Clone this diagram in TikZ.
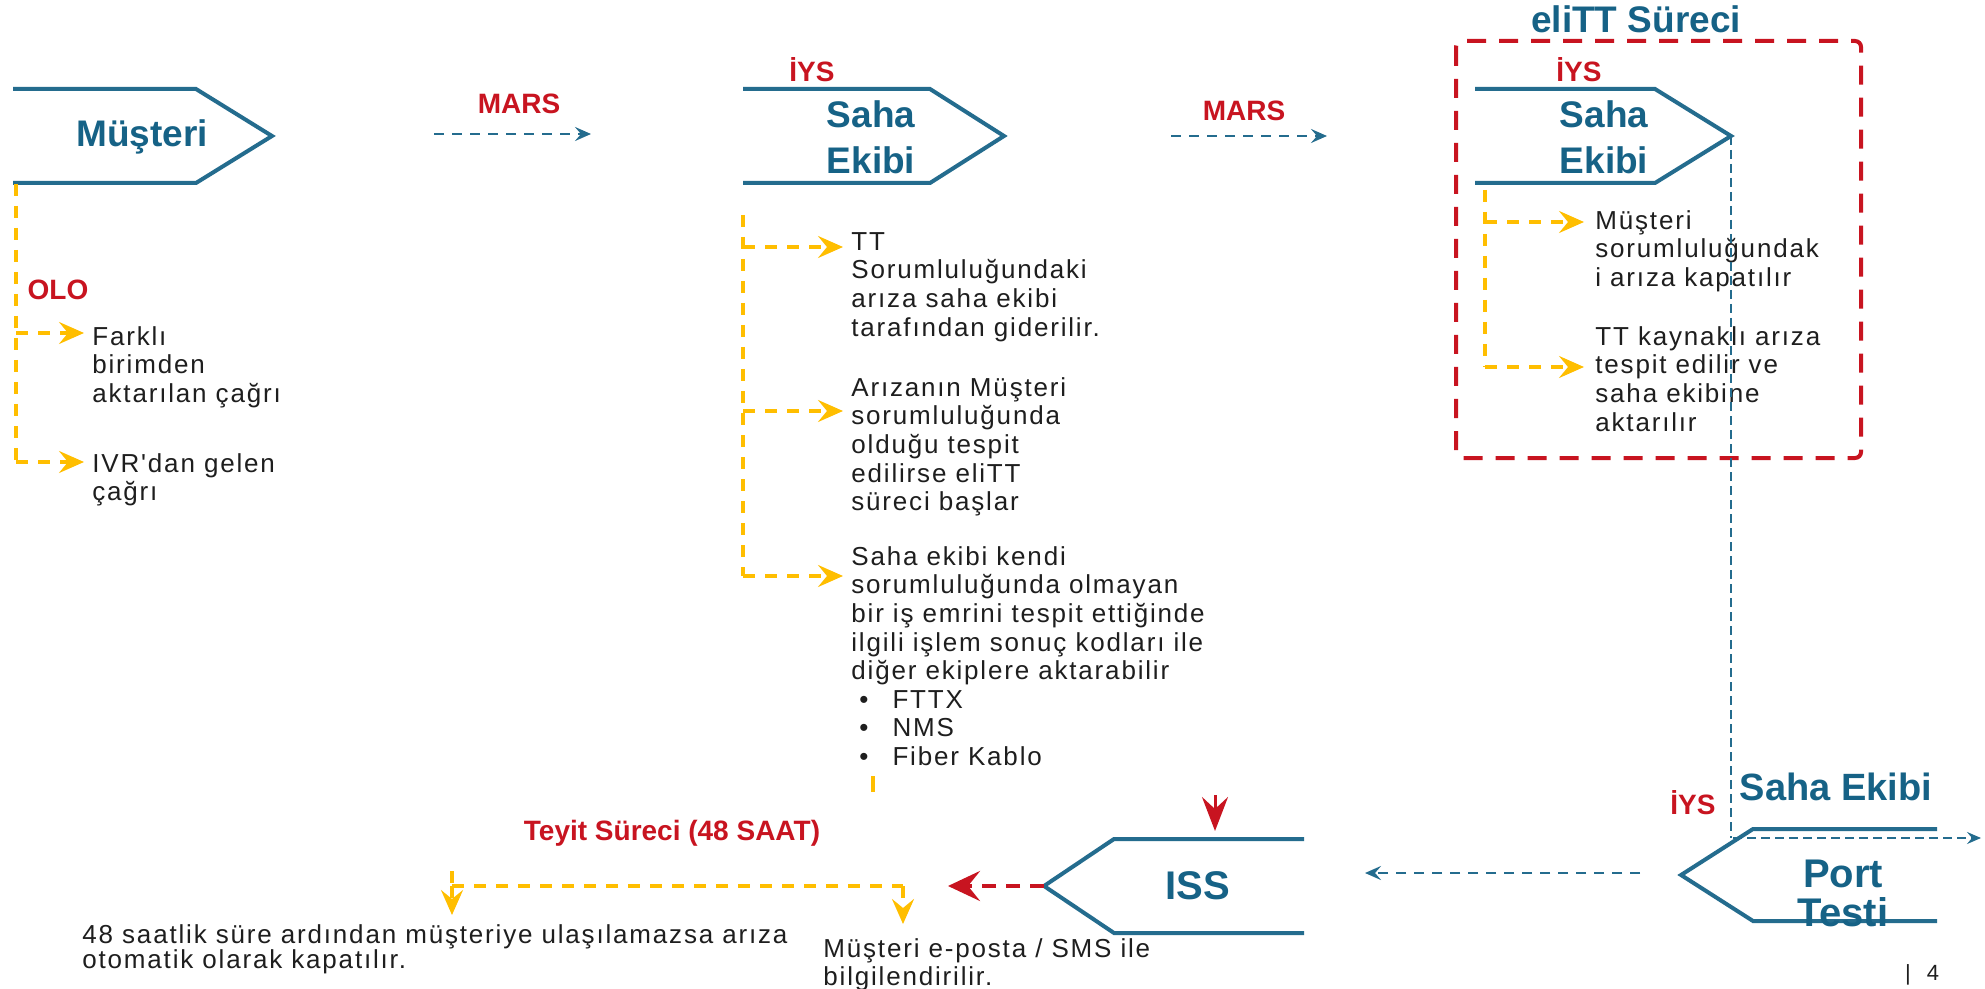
\documentclass[tikz,border=0pt]{standalone}
\usepackage{fontspec}
\setmainfont{Liberation Sans}
\newfontfamily\bodyf[LetterSpace=7]{Liberation Sans}
\usetikzlibrary{arrows.meta}
\definecolor{cblue}{RGB}{36,108,142}
\definecolor{tblue}{RGB}{22,98,134}
\definecolor{cred}{RGB}{200,20,32}
\definecolor{cyel}{RGB}{255,190,0}
\definecolor{ctext}{RGB}{30,30,30}
\tikzset{
 chev/.style={draw=cblue, line width=2pt, line join=miter},
 title/.style={font=\fontsize{18.5}{23}\selectfont\bfseries, text=tblue, align=center, inner sep=0},
 lab/.style={font=\fontsize{14}{16}\selectfont\bfseries, text=cred, inner sep=0},
 body/.style={font=\bodyf\fontsize{13}{14.3}\selectfont, align=left, anchor=north west, inner sep=0, text=ctext},
 ydash/.style={draw=cyel, line width=1.6pt, dash pattern=on 6pt off 5pt},
 yarrow/.style={ydash, -{Stealth[length=12.5pt,width=11pt,inset=4.5pt]}},
 bdash/.style={draw=cblue, line width=1.4pt, dash pattern=on 5pt off 4pt},
 barrow/.style={bdash, -{Stealth[length=8pt,width=7pt,inset=3pt]}},
 vdash/.style={draw=cblue, line width=1pt, dash pattern=on 4.5pt off 2.5pt},
 rbox/.style={draw=cred, line width=2pt, dash pattern=on 9.5pt off 6.5pt, rounded corners=3pt},
}
\begin{document}
\begin{tikzpicture}[x=0.5pt,y=-0.5pt]
\useasboundingbox (0,0) rectangle (1985,989);
\fill[white] (0,0) rectangle (1985,989);

% ---------- Musteri ----------
\draw[chev] (13,89) -- (196,89) -- (272,136) -- (196,183) -- (13,183);
\node[title] (must) at (142,137) {Müşteri};
\coordinate (mustbot) at (16,184);
\node[lab] (olo) at (58,290) {OLO};
\node[body] (farkli) at (92,326) {Farklı\\birimden\\aktarılan çağrı};
\node[body] (ivr) at (92,453) {IVR'dan gelen\\çağrı};
\coordinate (ly1) at (16,333);
\coordinate (ly2) at (16,462);
\coordinate (lt1) at (84,333);
\coordinate (lt2) at (84,462);
\draw[ydash] (mustbot) -- (ly2);
\draw[yarrow] (ly1) -- (lt1);
\draw[yarrow] (ly2) -- (lt2);

% ---------- MARS 1 ----------
\node[lab] (mars1) at (519,104) {MARS};
\coordinate (m1s) at (434,134);
\coordinate (m1e) at (591,134);
\draw[barrow] (m1s) -- (m1e);

% ---------- Saha Ekibi 1 ----------
\node[lab] (iysA) at (812,70) {İYS};
\draw[chev] (743,89) -- (930,89) -- (1004,136) -- (930,183) -- (743,183);
\node[title] (sahaA) at (871,137) {Saha\\Ekibi};
\node[body] (tt) at (851,232) {TT\\Sorumluluğundaki\\arıza saha ekibi\\tarafından giderilir.};
\node[body] (ariza) at (851,377) {Arızanın Müşteri\\sorumluluğunda\\olduğu tespit\\edilirse eliTT\\süreci başlar};
\node[body] (kendi) at (851,546) {Saha ekibi kendi\\sorumluluğunda olmayan\\bir iş emrini tespit ettiğinde\\ilgili işlem sonuç kodları ile\\diğer ekiplere aktarabilir\\
\hspace*{4pt}\textbullet\hspace{12pt}FTTX\\
\hspace*{4pt}\textbullet\hspace{12pt}NMS\\
\hspace*{4pt}\textbullet\hspace{12pt}Fiber Kablo};
\coordinate (my0) at (743,215);
\coordinate (my1) at (743,247);
\coordinate (my2) at (743,411);
\coordinate (my3) at (743,576);
\coordinate (mt1) at (843,247);
\coordinate (mt2) at (843,411);
\coordinate (mt3) at (843,576);
\draw[ydash] (my0) -- (my3);
\draw[yarrow] (my1) -- (mt1);
\draw[yarrow] (my2) -- (mt2);
\draw[yarrow] (my3) -- (mt3);
\coordinate (stubA) at (873,776);
\coordinate (stubB) at (873,792);
\draw[draw=cyel, line width=1.6pt] (stubA) -- (stubB);

% ---------- MARS 2 ----------
\node[lab] (mars2) at (1244,111) {MARS};
\coordinate (m2s) at (1171,136);
\coordinate (m2e) at (1327,136);
\draw[barrow] (m2s) -- (m2e);

% ---------- eliTT ----------
\node[font=\fontsize{18.5}{20}\selectfont\bfseries, text=tblue, inner sep=0] (elitt) at (1636,19) {eliTT Süreci};
\draw[rbox] (1456,41) rectangle (1861,458);
\node[lab] (iysB) at (1579,70) {İYS};
\draw[chev] (1475,89) -- (1655,89) -- (1731,136) -- (1655,183) -- (1475,183);
\coordinate (sbtip) at (1731,136);
\node[title] (sahaB) at (1604,137) {Saha\\Ekibi};
\node[body] (ekm) at (1595,210) {Müşteri\\sorumluluğundak\\i arıza kapatılır};
\node[body] (ekt) at (1595,326) {TT kaynaklı arıza\\tespit edilir ve\\saha ekibine\\aktarılır};
\coordinate (ey0) at (1485,190);
\coordinate (ey1) at (1485,222);
\coordinate (ey2) at (1485,367);
\coordinate (et1) at (1584,222);
\coordinate (et2) at (1584,367);
\draw[ydash] (ey0) -- (ey2);
\draw[yarrow] (ey1) -- (et1);
\draw[yarrow] (ey2) -- (et2);

% ---------- Port Testi ----------
\node[font=\fontsize{19}{20}\selectfont\bfseries, text=tblue, inner sep=0] (sahaC) at (1836,787) {Saha Ekibi};
\node[lab] (iysC) at (1693,803) {İYS};
\draw[chev] (1937,829) -- (1753,829) -- (1681,875) -- (1753,921) -- (1937,921);
\node[title, font=\fontsize{20}{19.5}\selectfont\bfseries] (port) at (1843,893) {Port\\Testi};
\coordinate (pend) at (1981,838);
\draw[vdash] (sbtip) -- (1731,838);
\draw[vdash, -{Stealth[length=7pt,width=6pt,inset=2.5pt]}] (1733,838) -- (pend);

% ---------- ISS ----------
\draw[chev] (1304,839) -- (1114,839) -- (1044,886) -- (1114,933) -- (1304,933);
\node[title, font=\fontsize{20}{22}\selectfont\bfseries] (iss) at (1198,886) {ISS};
\coordinate (isstip) at (1044,886);
\coordinate (pts) at (1640,873);
\coordinate (pte) at (1365,873);
\draw[barrow] (pts) -- (pte);
\coordinate (rdA) at (1215,795);
\coordinate (rdB) at (1215,831);
\draw[draw=cred, line width=1.5pt, -{Stealth[length=17pt,width=13pt,inset=6pt]}] (rdA) -- (rdB);
\coordinate (rl) at (948,886);
\draw[draw=cred, line width=2pt, dash pattern=on 7pt off 5pt, -{Stealth[length=16pt,width=15pt,inset=6pt]}] (isstip) -- (rl);

% ---------- Teyit ----------
\node[lab, font=\fontsize{14}{16}\selectfont\bfseries] (teyit) at (672,833) {Teyit Süreci (48 SAAT)};
\coordinate (by0) at (452,871);
\coordinate (by1) at (452,886);
\coordinate (bt1) at (452,915);
\coordinate (by2) at (903,886);
\coordinate (bt2) at (903,924);
\draw[ydash] (by0) -- (by1);
\draw[ydash] (by1) -- (by2);
\draw[yarrow] (by1) -- (bt1);
\draw[yarrow] (by2) -- (bt2);
\node[body, font=\bodyf\fontsize{13}{12.5}\selectfont] (t48) at (82,924) {48 saatlik süre ardından müşteriye ulaşılamazsa arıza\\otomatik olarak kapatılır.};
\node[body] (tmail) at (823,938) {Müşteri e-posta / SMS ile\\bilgilendirilir.};

\node[font=\fontsize{11}{13}\selectfont, text=ctext, inner sep=0] (pg) at (1922,975) {|\hspace{8pt}4};
\end{tikzpicture}
\end{document}
